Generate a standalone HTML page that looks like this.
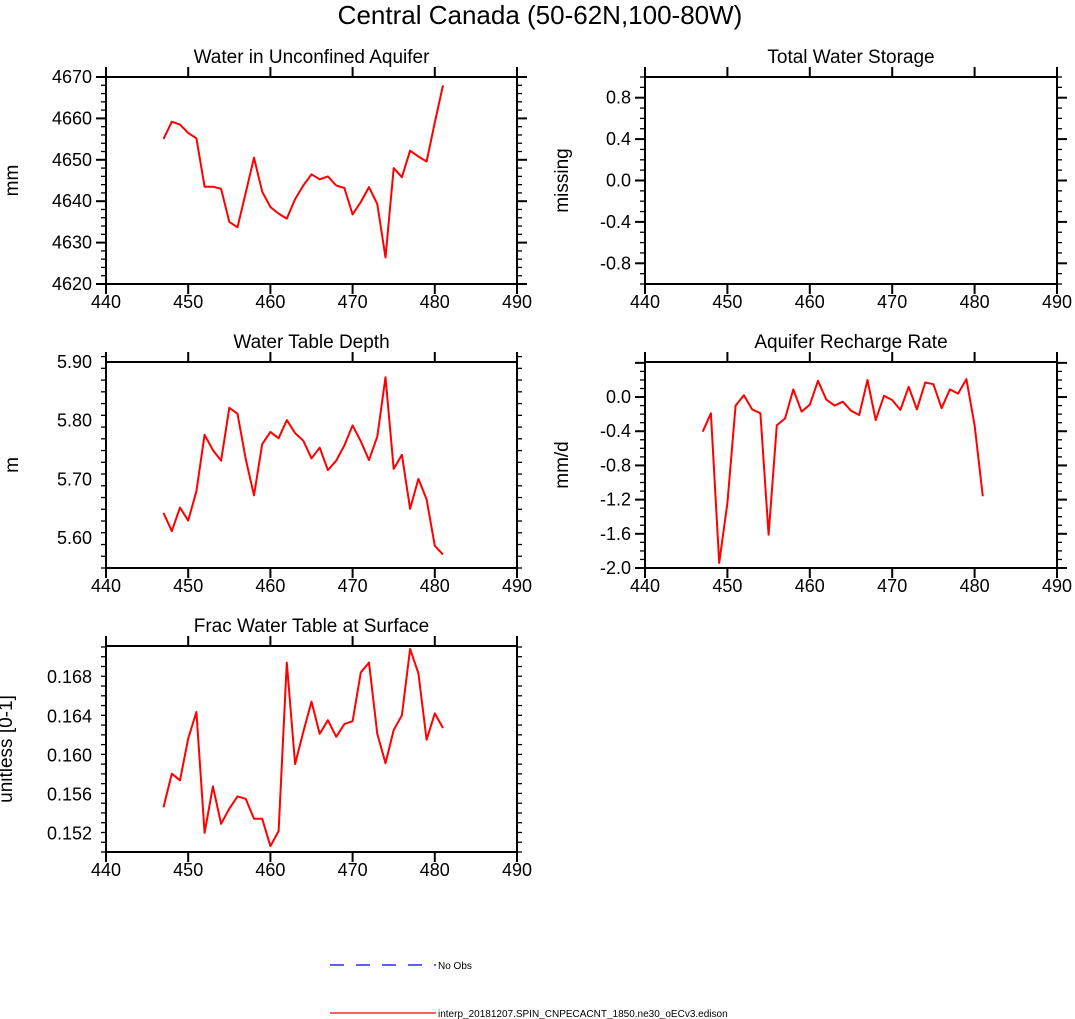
<!DOCTYPE html>
<html><head><meta charset="utf-8"><style>
html,body{margin:0;padding:0;background:#fff;}
svg{display:block;font-family:"Liberation Sans",Helvetica,sans-serif;}
</style></head><body>
<svg id="fig" width="1075" height="1019" viewBox="0 0 1075 1019">
<text x="540" y="24" font-size="26" text-anchor="middle">Central Canada (50-62N,100-80W)</text>
<g>
<line x1="330" y1="965" x2="436" y2="965" stroke="#0000ff" stroke-width="1.2" stroke-dasharray="14,12"/>
<text x="438" y="969" font-size="10">No Obs</text>
<line x1="330" y1="1013" x2="436" y2="1013" stroke="#ff0000" stroke-width="1.2"/>
<text x="438" y="1017" font-size="10">interp_20181207.SPIN_CNPECACNT_1850.ne30_oECv3.edison</text>
</g>
</svg>
<script>
const years = [447,448,449,450,451,452,453,454,455,456,457,458,459,460,461,462,463,464,465,466,467,468,469,470,471,472,473,474,475,476,477,478,479,480,481];
const aquiferWater = [4655,4659.2,4658.5,4656.5,4655.2,4643.5,4643.5,4643,4635,4633.7,4642,4650.5,4642.3,4638.6,4637,4635.8,4640.5,4643.8,4646.5,4645.3,4646,4643.8,4643.2,4636.8,4639.8,4643.4,4639.3,4626.4,4648,4645.8,4652.2,4650.8,4649.6,4659,4668];
const tableDepth = [5.643,5.612,5.652,5.630,5.680,5.776,5.750,5.732,5.822,5.812,5.735,5.673,5.760,5.781,5.770,5.801,5.779,5.766,5.736,5.754,5.716,5.732,5.758,5.792,5.765,5.733,5.773,5.874,5.718,5.742,5.650,5.701,5.666,5.587,5.572];
const recharge = [-0.405,-0.19,-1.94,-1.24,-0.10,0.02,-0.145,-0.19,-1.61,-0.33,-0.25,0.09,-0.17,-0.09,0.19,-0.03,-0.10,-0.055,-0.16,-0.21,0.20,-0.27,0.015,-0.035,-0.15,0.12,-0.145,0.17,0.15,-0.13,0.09,0.04,0.21,-0.33,-1.16];
const fracSurface = [0.15468,0.15812,0.15744,0.16172,0.16444,0.15207,0.15682,0.15299,0.15453,0.15579,0.15555,0.1535,0.1535,0.1507,0.15224,0.1695,0.1591,0.1624,0.1655,0.1622,0.1636,0.1619,0.1632,0.1635,0.1685,0.1695,0.1622,0.1592,0.1626,0.1641,0.1709,0.1684,0.1616,0.1643,0.1628];
const xTicks = [440,450,460,470,480,490];
const ticksAquifer = [4620,4630,4640,4650,4660,4670];
const ticksTWS = ["0.8","0.4","0.0","-0.4","-0.8"];
const ticksDepth = ["5.90","5.80","5.70","5.60"];
const ticksRecharge = ["0.0","-0.4","-0.8","-1.2","-1.6","-2.0"];
const ticksFrac = ["0.168","0.164","0.160","0.156","0.152"];

const NS='http://www.w3.org/2000/svg';
const svg=document.getElementById('fig');
function mk(tag,attrs,parent){const e=document.createElementNS(NS,tag);for(const k in attrs)e.setAttribute(k,attrs[k]);(parent||svg).appendChild(e);return e;}

function panel(o){
  const g=mk('g',{});
  
  
  const L=o.x0,R=o.x1,T=o.y0,B=o.y1;
  const sx=v=>L+(v-440)/(490-440)*(R-L);
  const sy=v=>B-(v-o.ymin)/(o.ymax-o.ymin)*(B-T);
  const fr=mk('rect',{x:L,y:T,width:R-L,height:B-T,fill:'none',stroke:'#000','stroke-width':2},g);
  
  
  for(let v=440;v<=490;v+=10){
    const x=sx(v);
    mk('line',{x1:x,y1:B,x2:x,y2:B+10,stroke:'#000','stroke-width':2},g);
    mk('line',{x1:x,y1:T,x2:x,y2:T-10,stroke:'#000','stroke-width':2},g);
  }
  xTicks.forEach(v=>{
    const t=mk('text',{x:sx(v),y:B+24,'font-size':18,'text-anchor':'middle'},g);
    t.textContent=v;
    
    
  });
  const n=Math.round((o.ymax-o.ymin)/o.minor);
  for(let i=0;i<=n;i++){
    const v=o.ymin+i*o.minor;const y=sy(v);
    const isMaj=Math.abs(((v-o.majBase)/o.major)-Math.round((v-o.majBase)/o.major))<1e-6;
    const len=isMaj?10:5;
    mk('line',{x1:L,y1:y,x2:L-len,y2:y,stroke:'#000','stroke-width':isMaj?2:1.3},g);
    mk('line',{x1:R,y1:y,x2:R+len,y2:y,stroke:'#000','stroke-width':isMaj?2:1.3},g);
  }
  o.labels.forEach(s=>{
    const t=mk('text',{x:L-14,y:sy(parseFloat(s))+6,'font-size':18,'text-anchor':'end'},g);
    t.textContent=s;
    
    
  });
  const tt=mk('text',{x:(L+R)/2,y:T-14,'font-size':19,'text-anchor':'middle'},g);
  tt.textContent=o.title;
  
  
  const yt=mk('text',{x:o.ytx,y:(T+B)/2,'font-size':19,'text-anchor':'middle',transform:`rotate(-90 ${o.ytx} ${(T+B)/2})`},g);
  yt.textContent=o.ytitle;
  
  
  if(o.data){
    const pts=years.map((yr,i)=>sx(yr).toFixed(1)+','+sy(o.data[i]).toFixed(1)).join(' ');
    const pl=mk('polyline',{points:pts,fill:'none',stroke:'#ff0000','stroke-width':2,'stroke-linejoin':'round'},g);
    
    
  }
}
panel({name:'panel-aquifer-water',x0:106,x1:517,y0:77,y1:284,ymin:4620,ymax:4670,minor:2,major:10,majBase:4620,labels:ticksAquifer.map(String),title:'Water in Unconfined Aquifer',ytitle:'mm',ytx:18,data:aquiferWater});
panel({name:'panel-total-water-storage',x0:645,x1:1057,y0:77,y1:284,ymin:-1,ymax:1,minor:0.1,major:0.4,majBase:0,labels:ticksTWS,title:'Total Water Storage',ytitle:'missing',ytx:568,data:null});
panel({name:'panel-water-table-depth',x0:106,x1:517,y0:362,y1:568,ymin:5.5492,ymax:5.9,minor:0.02,major:0.1,majBase:5.6,labels:ticksDepth,title:'Water Table Depth',ytitle:'m',ytx:18,data:tableDepth});
panel({name:'panel-aquifer-recharge',x0:645,x1:1057,y0:362,y1:568,ymin:-2.0,ymax:0.41,minor:0.1,major:0.4,majBase:0,labels:ticksRecharge,title:'Aquifer Recharge Rate',ytitle:'mm/d',ytx:568,data:recharge});
panel({name:'panel-frac-water-table',x0:106,x1:517,y0:646,y1:852,ymin:0.1501,ymax:0.1712,minor:0.001,major:0.004,majBase:0.152,labels:ticksFrac,title:'Frac Water Table at Surface',ytitle:'unitless [0-1]',ytx:12,data:fracSurface});
</script>
</body></html>
